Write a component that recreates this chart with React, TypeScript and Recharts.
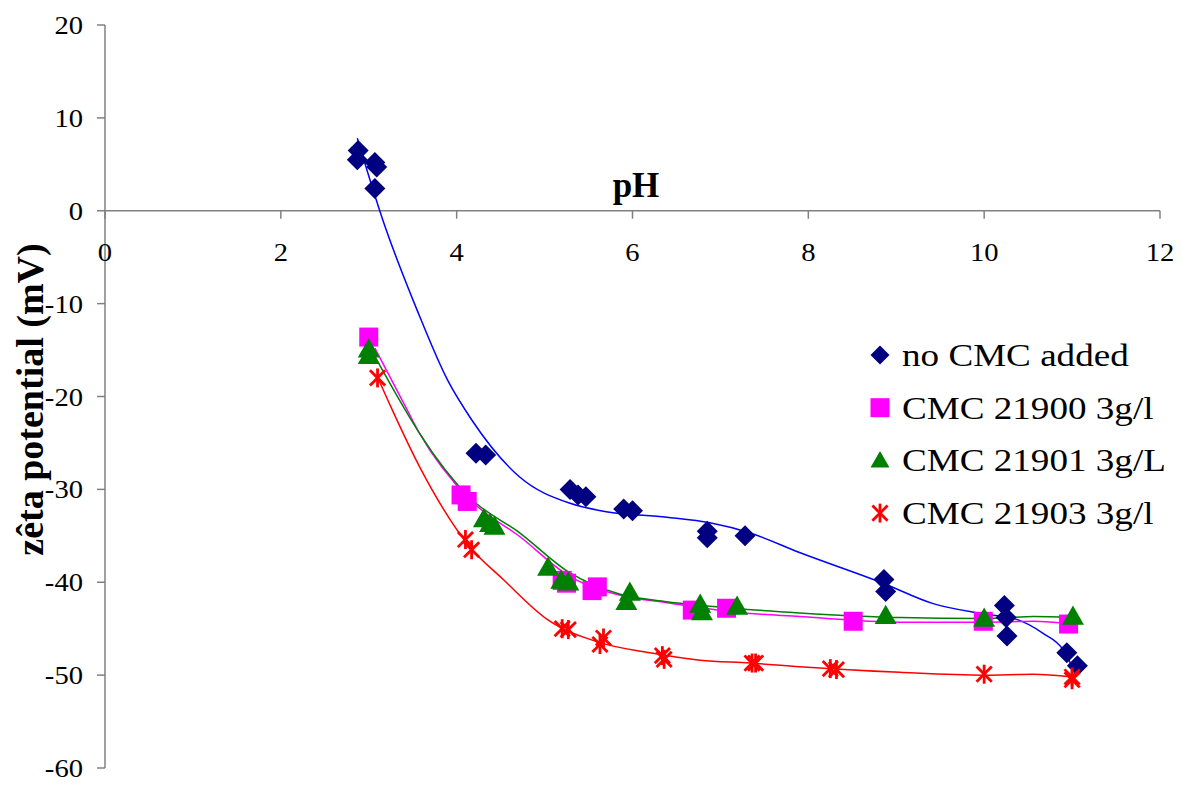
import React from "react";
import {
  ComposedChart,
  Scatter,
  Line,
  XAxis,
  YAxis,
  ReferenceLine,
} from "recharts";

// measured points (pH, zeta potential in mV)
const noCmcPH = [2.88, 2.87, 3.07, 3.09, 3.07, 4.22, 4.33, 5.29, 5.38, 5.47, 5.9, 6.0, 6.85, 6.85, 7.28, 8.86, 8.88, 10.23, 10.25, 10.26, 10.94, 11.06];
const noCmcZeta = [6.5, 5.5, 5.2, 4.7, 2.4, -26.1, -26.3, -30.0, -30.6, -30.8, -32.1, -32.3, -34.5, -35.2, -35.0, -39.7, -41.0, -42.5, -43.8, -45.8, -47.6, -49.0];

const cmc21900PH = [3.0, 4.05, 4.12, 5.2, 5.25, 5.54, 5.6, 6.68, 7.07, 8.51, 9.99, 10.96];
const cmc21900Zeta = [-13.6, -30.6, -31.3, -39.8, -40.1, -40.9, -40.5, -43.0, -42.8, -44.2, -44.2, -44.5];

const cmc21901PH = [3.0, 3.0, 4.31, 4.38, 4.43, 5.04, 5.19, 5.27, 5.97, 5.93, 6.77, 6.79, 7.19, 8.88, 10.0, 11.01];
const cmc21901Zeta = [-14.9, -15.6, -33.2, -33.7, -34.0, -38.4, -39.8, -40.0, -41.1, -42.1, -42.4, -43.2, -42.6, -43.6, -43.9, -43.7];

const cmc21903PH = [3.1, 4.1, 4.17, 5.2, 5.27, 5.67, 5.63, 6.34, 6.36, 7.36, 7.4, 8.25, 8.32, 10.0, 11.0, 11.0];
const cmc21903Zeta = [-18.0, -35.4, -36.5, -45.0, -45.1, -46.0, -46.7, -47.9, -48.3, -48.7, -48.7, -49.3, -49.4, -49.9, -50.5, -50.2];

// trend curves
const noCmcTrendPH = [2.87, 3.16, 3.55, 3.9, 4.17, 4.72, 5.29, 5.7, 6.39, 6.88, 7.34, 7.9, 8.85, 9.42, 9.99, 10.37, 10.67, 10.9, 11.0];
const noCmcTrendZeta = [7.8, -1.0, -10.7, -18.3, -22.5, -28.7, -31.5, -32.4, -33.0, -33.6, -34.7, -36.8, -40.1, -42.3, -43.4, -44.0, -45.5, -47.3, -49.1];

const cmc21900TrendPH = [3.07, 3.44, 3.58, 4.15, 4.72, 5.29, 5.86, 6.39, 7.14, 7.9, 9.04, 10.0, 10.56, 11.0];
const cmc21900TrendZeta = [-14.8, -21.5, -24.0, -31.1, -35.1, -39.4, -41.4, -42.2, -43.2, -43.7, -44.3, -44.3, -44.2, -44.5];

const cmc21901TrendPH = [3.0, 3.4, 3.58, 4.15, 4.72, 5.29, 5.86, 6.39, 7.14, 7.9, 9.04, 10.0, 10.56, 11.0];
const cmc21901TrendZeta = [-14.5, -21.2, -24.0, -30.9, -34.7, -39.0, -41.3, -42.1, -42.8, -43.3, -43.8, -43.9, -43.7, -43.8];

const cmc21903TrendPH = [3.1, 3.27, 3.58, 4.15, 4.53, 5.03, 5.63, 6.2, 6.77, 7.34, 7.9, 9.04, 10.0, 10.56, 11.0];
const cmc21903TrendZeta = [-17.9, -21.5, -27.6, -36.2, -39.7, -44.0, -46.5, -47.6, -48.4, -48.7, -49.1, -49.7, -50.0, -49.9, -50.2];

const xTicks = [0, 2, 4, 6, 8, 10, 12];
const yTicks = [-60, -50, -40, -30, -20, -10, 0, 10, 20];

const seriesNames = ["no CMC added", "CMC 21900 3g/l", "CMC 21901 3g/L", "CMC 21903 3g/l"];

const zip = (xs: number[], ys: number[]) => xs.map((x, i) => ({ x, y: ys[i] }));

const W = 1181;
const H = 785;
const PLOT_TOP = 25;
const PLOT_BOTTOM = 768;
const X_AXIS_H = 1;
const Y_MIN = -60;
const Y_MAX = 20;
const Y_ZERO = PLOT_TOP + ((Y_MAX - 0) / (Y_MAX - Y_MIN)) * (PLOT_BOTTOM - PLOT_TOP);

const FONT = '"Liberation Serif", "Times New Roman", serif';
const AXIS = "#808080";
// the original text is drawn a little wider than normal glyphs
const STRETCH = 1.1;

const NAVY = "#000080";
const MAGENTA = "#FF00FF";
const GREEN = "#008000";
const RED = "#FF0000";

const Diamond = ({ cx, cy, r = 10.5 }: any) => (
  <polygon points={`${cx},${cy - r} ${cx + r},${cy} ${cx},${cy + r} ${cx - r},${cy}`} fill={NAVY} />
);
const Square = ({ cx, cy, r = 9.5 }: any) => (
  <rect x={cx - r} y={cy - r} width={r * 2} height={r * 2} fill={MAGENTA} />
);
const Triangle = ({ cx, cy, r = 11 }: any) => (
  <polygon points={`${cx},${cy - r} ${cx + r},${cy + r * 0.75} ${cx - r},${cy + r * 0.75}`} fill={GREEN} />
);
const Star = ({ cx, cy, r = 9.5 }: any) => (
  <g stroke={RED} strokeWidth={2.8}>
    <line x1={cx} y1={cy - r} x2={cx} y2={cy + r} />
    <line x1={cx - r * 0.8} y1={cy - r * 0.8} x2={cx + r * 0.8} y2={cy + r * 0.8} />
    <line x1={cx - r * 0.8} y1={cy + r * 0.8} x2={cx + r * 0.8} y2={cy - r * 0.8} />
  </g>
);

const markers = [Diamond, Square, Triangle, Star];

const renderXTick = ({ x, payload }: any) => (
  <g>
    <line x1={x} x2={x} y1={Y_ZERO} y2={Y_ZERO + 8} stroke={AXIS} strokeWidth={1.5} />
    <g transform={`translate(${x}, ${Y_ZERO + 50}) scale(${STRETCH}, 1)`}>
      <text x={0} y={0} textAnchor="middle" fontFamily={FONT} fontSize={26} fill="#000">
        {payload.value}
      </text>
    </g>
  </g>
);

const renderYTick = ({ x, y, payload }: any) => (
  <g transform={`translate(${x}, ${y + 9}) scale(${STRETCH}, 1)`}>
    <text x={0} y={0} textAnchor="end" fontFamily={FONT} fontSize={26} fill="#000">
      {payload.value}
    </text>
  </g>
);

const YLabel = ({ viewBox }: any) => {
  const cx = viewBox.x + 30;
  const cy = viewBox.y + viewBox.height / 2 + 3;
  return (
    <text
      x={cx}
      y={cy}
      transform={`rotate(-90, ${cx}, ${cy})`}
      textAnchor="middle"
      dominantBaseline="central"
      fontFamily={FONT}
      fontWeight="bold"
      fontSize={38}
      fill="#000"
    >
      zêta potential (mV)
    </text>
  );
};

function ChartLegend() {
  return (
    <svg width={310} height={220} style={{ position: "absolute", left: 868, top: 330 }}>
      {seriesNames.map((name, i) => {
        const M = markers[i];
        const cy = 25 + i * 52.7;
        return (
          <g key={name}>
            <M cx={12} cy={cy} r={9.5} />
            <g transform={`translate(34, ${cy + 11}) scale(1.16, 1)`}>
              <text x={0} y={0} fontFamily={FONT} fontSize={32} fill="#000">
                {name}
              </text>
            </g>
          </g>
        );
      })}
    </svg>
  );
}

export default function App() {
  const points = [
    zip(noCmcPH, noCmcZeta),
    zip(cmc21900PH, cmc21900Zeta),
    zip(cmc21901PH, cmc21901Zeta),
    zip(cmc21903PH, cmc21903Zeta),
  ];
  const trends = [
    zip(noCmcTrendPH, noCmcTrendZeta),
    zip(cmc21900TrendPH, cmc21900TrendZeta),
    zip(cmc21901TrendPH, cmc21901TrendZeta),
    zip(cmc21903TrendPH, cmc21903TrendZeta),
  ];
  const lineColors = ["#0000FF", MAGENTA, GREEN, RED];

  return (
    <div style={{ position: "absolute", left: 0, top: 0, width: W, height: H, background: "#fff" }}>
      <ComposedChart
        width={W}
        height={H}
        margin={{ top: PLOT_TOP, right: 21, bottom: H - PLOT_BOTTOM - X_AXIS_H, left: 0 }}
      >
        <XAxis
          type="number"
          dataKey="x"
          domain={[0, 12]}
          ticks={xTicks}
          height={X_AXIS_H}
          axisLine={false}
          tickLine={false}
          tick={renderXTick}
          interval={0}
          allowDataOverflow
        />
        <YAxis
          type="number"
          dataKey="y"
          domain={[Y_MIN, Y_MAX]}
          ticks={yTicks}
          width={105}
          interval={0}
          axisLine={{ stroke: AXIS, strokeWidth: 1.5 }}
          tickLine={{ stroke: AXIS, strokeWidth: 1.5 }}
          tickSize={8}
          tickMargin={14}
          tick={renderYTick}
          label={<YLabel />}
          allowDataOverflow
        />
        <ReferenceLine y={0} stroke={AXIS} strokeWidth={1.5} />
        {points.map((data, i) => {
          const M = markers[i];
          return (
            <Scatter
              key={"s" + i}
              name={seriesNames[i]}
              data={data}
              dataKey="y"
              shape={(p: any) => <M cx={p.cx} cy={p.cy} />}
              isAnimationActive={false}
            />
          );
        })}
        {trends.map((data, i) => (
          <Line
            key={"l" + i}
            data={data}
            dataKey="y"
            type="monotone"
            dot={false}
            activeDot={false}
            stroke={lineColors[i]}
            strokeWidth={1.5}
            legendType="none"
            isAnimationActive={false}
          />
        ))}
        <text x={636} y={197} textAnchor="middle" fontFamily={FONT} fontWeight="bold" fontSize={35} fill="#000">
          pH
        </text>
      </ComposedChart>
      <ChartLegend />
    </div>
  );
}
